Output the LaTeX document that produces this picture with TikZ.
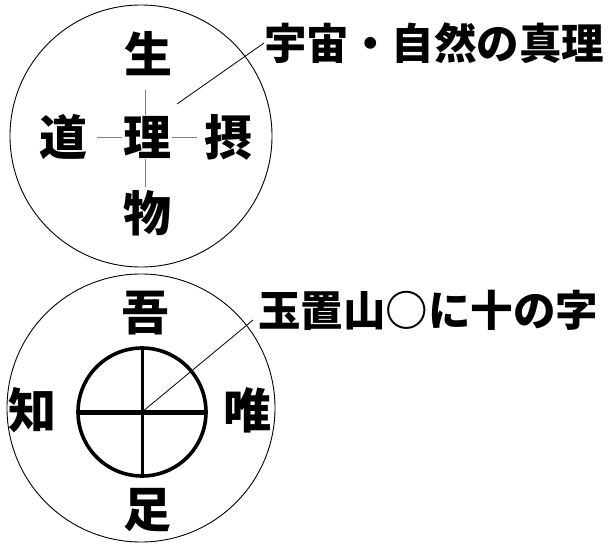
\documentclass[tikz,border=0pt]{standalone}
\usepackage{fontspec}
\newfontfamily\cjk{Noto Sans CJK JP}
\tikzset{
  big/.style={font=\cjk\bfseries\fontsize{48}{48}\selectfont, inner sep=0pt},
  lab/.style={font=\cjk\bfseries\fontsize{42.5}{42.5}\selectfont, inner sep=0pt, anchor=west},
  ring/.style={draw, line width=0.9pt},
  thincross/.style={draw=gray, line width=0.8pt},
  leader/.style={draw, line width=0.8pt},
  heavy/.style={draw, line width=3.6pt}
}
\begin{document}
\begin{tikzpicture}[x=1pt,y=-1pt]
\useasboundingbox (0,0) rectangle (616,548);
% top circle
\draw[ring] (141,136) circle (131);
\draw[thincross] (145,90) -- (145,187);
\draw[thincross] (97,137) -- (197,137);
\node[big, fill=white, inner sep=1pt] (ri) at (147,137) {理};
\node[big] (sei) at (148,54) {生};
\node[big] (dou) at (63,137) {道};
\node[big] (setsu) at (228,137) {摂};
\node[big] (butsu) at (147,213) {物};
\coordinate (l1a) at (177,104);
\node[lab] (lab1) at (264,43) {宇宙・自然の真理};
\draw[leader] (l1a) -- (lab1.west);
% bottom circle
\draw[ring] (141,408) circle (134);
\coordinate (bc) at (142,412);
\draw[heavy] (bc) circle (64);
\draw[draw, line width=3pt] (142,348) -- (142,476);
\draw[draw, line width=5pt] (78,412) -- (206,412);
\node[big] (go) at (145,313) {吾};
\node[big] (chi) at (33,410) {知};
\node[big] (yui) at (247,410) {唯};
\node[big] (soku) at (147,510) {足};
\node[lab] (lab2) at (258,310) {玉置山○に十の字};
\coordinate (l2a) at (253,320);
\draw[leader] (bc) -- (l2a);
\end{tikzpicture}
\end{document}
